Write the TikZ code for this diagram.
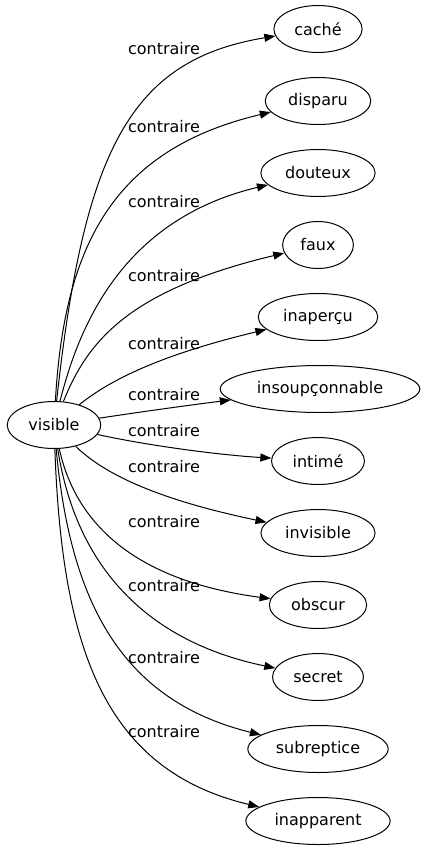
\documentclass[tikz,border=0pt]{standalone}
\usepackage{fontspec}
\setmainfont{DejaVu Sans}
\usetikzlibrary{arrows.meta,shapes.geometric}

\begin{document}
\begin{tikzpicture}[x=1pt, y=-1pt,
                    line width=1pt,
                    font=\fontsize{16}{19}\selectfont,
                    ]
    \tikzstyle{word}=[ellipse,draw,inner xsep=7.5pt,inner ysep=2pt,minimum height=47pt]
    \tikzstyle{rel}=[inner sep=0pt]
    \tikzstyle{link}=[draw,-{Triangle[length=11pt,width=8pt]}]

    \useasboundingbox (0,0) rectangle (424,851);

    \node[word] (visible) at (54,425) {visible};

    \node[word] (cache)      at (318,29)  {caché};
    \node[word] (disparu)    at (318,101) {disparu};
    \node[word] (douteux)    at (318,173) {douteux};
    \node[word] (faux)       at (318,245) {faux};
    \node[word] (inapercu)   at (318,317) {inaperçu};
    \node[word] (insoup)     at (320,389) {insoupçonnable};
    \node[word] (intime)     at (318,461) {intimé};
    \node[word] (invisible)  at (318,533) {invisible};
    \node[word] (obscur)     at (318,605) {obscur};
    \node[word] (secret)     at (318,677) {secret};
    \node[word] (subreptice) at (318,749) {subreptice};
    \node[word] (inapparent) at (318,821) {inapparent};

    \node[rel] (rCache)      at (164,49)  {contraire};
    \node[rel] (rDisparu)    at (164,127) {contraire};
    \node[rel] (rDouteux)    at (164,202) {contraire};
    \node[rel] (rFaux)       at (164,276) {contraire};
    \node[rel] (rInapercu)   at (164,344) {contraire};
    \node[rel] (rInsoup)     at (164,395) {contraire};
    \node[rel] (rIntime)     at (164,431) {contraire};
    \node[rel] (rInvisible)  at (164,467) {contraire};
    \node[rel] (rObscur)     at (164,522) {contraire};
    \node[rel] (rSecret)     at (164,586) {contraire};
    \node[rel] (rSubreptice) at (164,658) {contraire};
    \node[rel] (rInapparent) at (164,732) {contraire};

    \path[link] (visible) .. controls (84,150) and (130,60) .. (cache);
    \path[link] (visible) .. controls (64,250) and (110,150) .. (disparu);
    \path[link] (visible) .. controls (78,330) and (120,220) .. (douteux);
    \path[link] (visible) .. controls (88,340) and (130,290) .. (faux);
    \path[link] (visible) .. controls (110,380) and (160,355) .. (inapercu);
    \path[link] (visible) .. controls (140,412) and (190,405) .. (insoup);
    \path[link] (visible) .. controls (150,446) and (220,455) .. (intime);
    \path[link] (visible) .. controls (105,475) and (160,500) .. (invisible);
    \path[link] (visible) .. controls (75,520) and (130,580) .. (obscur);
    \path[link] (visible) .. controls (75,560) and (140,640) .. (secret);
    \path[link] (visible) .. controls (70,600) and (120,700) .. (subreptice);
    \path[link] (visible) .. controls (62,650) and (105,770) .. (inapparent);
\end{tikzpicture}
\end{document}
